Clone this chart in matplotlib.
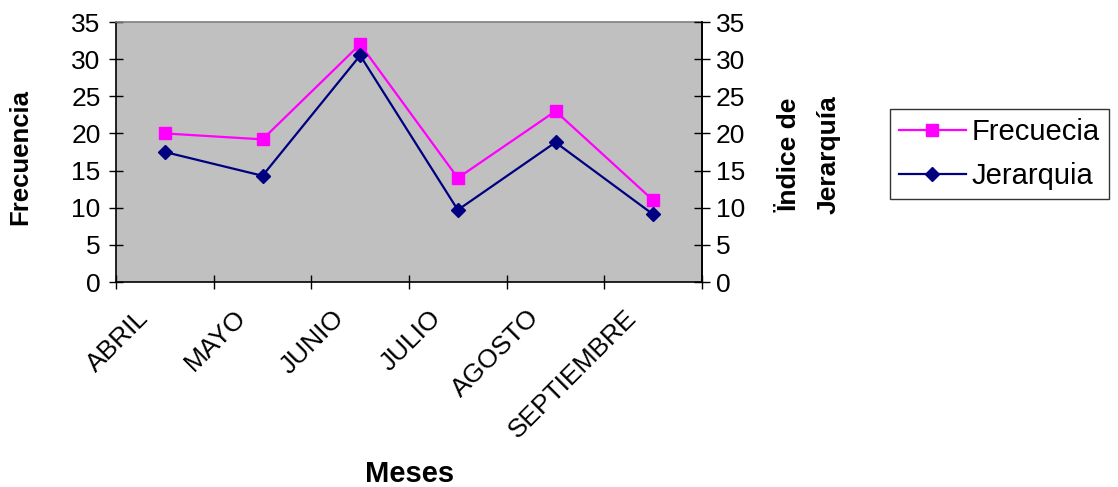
import matplotlib
matplotlib.use("Agg")
import matplotlib.pyplot as plt
import matplotlib.transforms as mtransforms

meses = ["ABRIL", "MAYO", "JUNIO", "JULIO", "AGOSTO", "SEPTIEMBRE"]
frecuencia = [20, 19.2, 32, 14, 23, 11]
jerarquia = [17.5, 14.3, 30.5, 9.7, 18.8, 9.1]
yticks = [0, 5, 10, 15, 20, 25, 30, 35]

plt.rcParams['font.family'] = ['Liberation Sans', 'DejaVu Sans']
FS = 19

W, H = 1118, 487
fig = plt.figure(figsize=(W / 100, H / 100), dpi=100)
ax = fig.add_axes([116 / W, 1 - 282 / H, (702 - 116) / W, (282 - 22) / H])
ax.set_facecolor('#C0C0C0')

x = list(range(len(meses)))
ax.plot(x, frecuencia, color='#FF00FF', lw=1.6, marker='s', ms=8.5,
        mec='#FF00FF', mfc='#FF00FF', label='Frecuecia', zorder=3)
ax.plot(x, jerarquia, color='#000080', lw=1.6, marker='D', ms=7,
        mec='#000080', mfc='#000080', label='Jerarquia', zorder=4)

ax.set_xlim(-0.5, len(meses) - 0.5)
ax.set_ylim(0, 35)
ax.set_yticks(yticks)
ax.set_yticklabels([str(v) for v in yticks], fontsize=FS)
ax.tick_params(axis='y', direction='inout', length=10, width=1, pad=6, colors='black')

ax.set_xticks([i - 0.5 for i in range(len(meses) + 1)], minor=True)
ax.set_xticks(x)
ax.set_xticklabels(meses, fontsize=FS, rotation=45, ha='right', va='center',
                   rotation_mode='anchor')
ax.tick_params(axis='x', which='major', length=0, pad=23)
ax.tick_params(axis='x', which='minor', direction='inout', length=10, width=1)
off = mtransforms.ScaledTranslation(-20 / 100, 0, fig.dpi_scale_trans)
for lab in ax.get_xticklabels():
    lab.set_transform(lab.get_transform() + off)

for s in ['left', 'bottom', 'right']:
    ax.spines[s].set_color('black')
    ax.spines[s].set_linewidth(1.2)
ax.spines['top'].set_color('#808080')
ax.spines['top'].set_linewidth(1.2)

ax2 = ax.twinx()
ax2.set_ylim(0, 35)
ax2.set_yticks(yticks)
ax2.set_yticklabels([str(v) for v in yticks], fontsize=FS)
ax2.tick_params(axis='y', direction='inout', length=12, width=1, pad=4)
for s in ['left', 'bottom', 'top']:
    ax2.spines[s].set_visible(False)
ax2.spines['right'].set_linewidth(1.2)

fig.text(20 / W, 1 - 157 / H, 'Frecuencia', rotation=90, fontsize=FS - 0.5,
         fontweight='bold', ha='center', va='center')
fig.text(809 / W, 1 - 155 / H, 'Ïndice de\nJerarquía', rotation=90, fontsize=FS,
         fontweight='bold', ha='center', va='center', linespacing=1.75,
         multialignment='center')
fig.text(410 / W, 1 - 474 / H, 'Meses', fontsize=FS + 2, fontweight='bold',
         ha='center', va='center')

leg = fig.legend(loc='upper left', bbox_to_anchor=(890 / W, 1 - 109 / H),
                 fontsize=FS + 2, frameon=True, fancybox=False, borderaxespad=0,
                 handlelength=2.3, handletextpad=0.2, labelspacing=0.55,
                 borderpad=0.3)
leg.get_frame().set_edgecolor('black')
leg.get_frame().set_linewidth(1.0)

fig.savefig('out.png', dpi=100)
